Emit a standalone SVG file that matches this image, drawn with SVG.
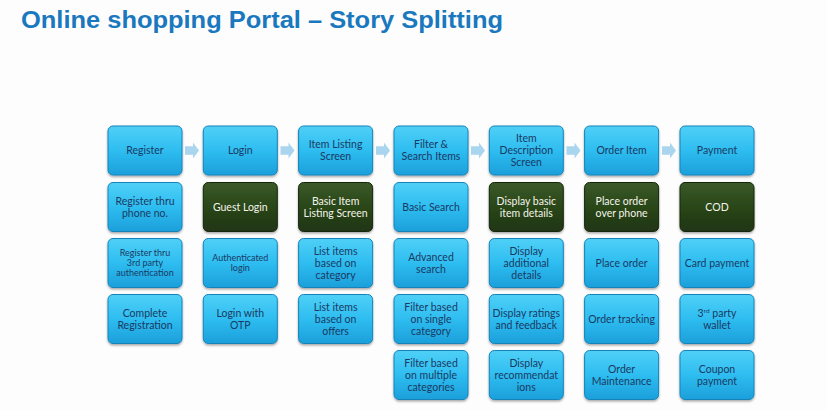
<svg xmlns="http://www.w3.org/2000/svg" width="827" height="410" viewBox="0 0 827 410">
  <defs>
    <linearGradient id="blueFill" x1="0" y1="0" x2="0" y2="1">
      <stop offset="0" stop-color="#4fd0f7"/>
      <stop offset="0.5" stop-color="#2ebdf0"/>
      <stop offset="1" stop-color="#1c9fdb"/>
    </linearGradient>
    <linearGradient id="darkFill" x1="0" y1="0" x2="0" y2="1">
      <stop offset="0" stop-color="#3a5a28"/>
      <stop offset="0.5" stop-color="#2a4619"/>
      <stop offset="1" stop-color="#1f3512"/>
    </linearGradient>
    <filter id="shadow" x="-10%" y="-10%" width="120%" height="130%">
      <feDropShadow dx="0" dy="1.5" stdDeviation="1.2" flood-color="#000" flood-opacity="0.35"/>
    </filter>
    <path id="chev" d="M0,-4.3 H8 V-8 L14,0 L8,8 V4.3 H0 Z"/>
  </defs>
  <style>
    .box { fill: url(#blueFill); stroke: #1984b8; stroke-width: 1; filter: url(#shadow); }
    .dark { fill: url(#darkFill); stroke: #16260d; stroke-width: 1; filter: url(#shadow); }
    .t { font-family: Lato, "Open Sans", "Liberation Sans", sans-serif; font-size: 10.5px; fill: #1a3a64; text-anchor: middle; }
    .s { font-size: 9px; }
    .w { fill: #f4f4ea; }
    .arrow { fill: #a9d5ef; }
    .title { font-family: "Liberation Sans", Arial, sans-serif; font-weight: bold; font-size: 23px; fill: #1a78be; }
  </style>

  <rect width="827" height="410" fill="#fdfdfd"/>

  <text class="title" x="21" y="27.5" textLength="482" lengthAdjust="spacingAndGlyphs">Online shopping Portal – Story Splitting</text>

  <!-- flow arrows along the top row -->
  <g id="connectors">
    <use href="#chev" class="arrow" x="185" y="150.5"/>
    <use href="#chev" class="arrow" x="280.5" y="150.5"/>
    <use href="#chev" class="arrow" x="376" y="150.5"/>
    <use href="#chev" class="arrow" x="471" y="150.5"/>
    <use href="#chev" class="arrow" x="566.5" y="150.5"/>
    <use href="#chev" class="arrow" x="662" y="150.5"/>
  </g>

  <!-- Column 1: Register -->
  <g id="register">
    <rect class="box" x="108" y="126" width="74" height="49" rx="5"/>
    <text class="t" x="145" y="154">Register</text>
  </g>
  <g id="register-phone">
    <rect class="box" x="108" y="182.5" width="74" height="49" rx="5"/>
    <text class="t" x="145" y="204.5">Register thru</text>
    <text class="t" x="145" y="216.5">phone no.</text>
  </g>
  <g id="register-3rd-party">
    <rect class="box" x="108" y="238.5" width="74" height="49" rx="5"/>
    <text class="t s" x="145" y="255.5">Register thru</text>
    <text class="t s" x="145" y="265.5">3rd party</text>
    <text class="t s" x="145" y="275.5">authentication</text>
  </g>
  <g id="complete-registration">
    <rect class="box" x="108" y="294.5" width="74" height="49" rx="5"/>
    <text class="t" x="145" y="316.5">Complete</text>
    <text class="t" x="145" y="328.5">Registration</text>
  </g>

  <!-- Column 2: Login -->
  <g id="login">
    <rect class="box" x="203.3" y="126" width="74" height="49" rx="5"/>
    <text class="t" x="240.3" y="154">Login</text>
  </g>
  <g id="guest-login">
    <rect class="dark" x="203.3" y="182.5" width="74" height="49" rx="5"/>
    <text class="t w" x="240.3" y="210.5">Guest Login</text>
  </g>
  <g id="authenticated-login">
    <rect class="box" x="203.3" y="238.5" width="74" height="49" rx="5"/>
    <text class="t s" x="240.3" y="260.5">Authenticated</text>
    <text class="t s" x="240.3" y="270.5">login</text>
  </g>
  <g id="login-otp">
    <rect class="box" x="203.3" y="294.5" width="74" height="49" rx="5"/>
    <text class="t" x="240.3" y="316.5">Login with</text>
    <text class="t" x="240.3" y="328.5">OTP</text>
  </g>

  <!-- Column 3: Item Listing Screen -->
  <g id="item-listing">
    <rect class="box" x="298.6" y="126" width="74" height="49" rx="5"/>
    <text class="t" x="335.6" y="148">Item Listing</text>
    <text class="t" x="335.6" y="160">Screen</text>
  </g>
  <g id="basic-item-listing">
    <rect class="dark" x="298.6" y="182.5" width="74" height="49" rx="5"/>
    <text class="t w" x="335.6" y="204.5">Basic Item</text>
    <text class="t w" x="335.6" y="216.5">Listing Screen</text>
  </g>
  <g id="list-by-category">
    <rect class="box" x="298.6" y="238.5" width="74" height="49" rx="5"/>
    <text class="t" x="335.6" y="254.5">List items</text>
    <text class="t" x="335.6" y="266.5">based on</text>
    <text class="t" x="335.6" y="278.5">category</text>
  </g>
  <g id="list-by-offers">
    <rect class="box" x="298.6" y="294.5" width="74" height="49" rx="5"/>
    <text class="t" x="335.6" y="310.5">List items</text>
    <text class="t" x="335.6" y="322.5">based on</text>
    <text class="t" x="335.6" y="334.5">offers</text>
  </g>

  <!-- Column 4: Filter & Search -->
  <g id="filter-search">
    <rect class="box" x="394" y="126" width="74" height="49" rx="5"/>
    <text class="t" x="431" y="148">Filter &amp;</text>
    <text class="t" x="431" y="160">Search Items</text>
  </g>
  <g id="basic-search">
    <rect class="box" x="394" y="182.5" width="74" height="49" rx="5"/>
    <text class="t" x="431" y="210.5">Basic Search</text>
  </g>
  <g id="advanced-search">
    <rect class="box" x="394" y="238.5" width="74" height="49" rx="5"/>
    <text class="t" x="431" y="260.5">Advanced</text>
    <text class="t" x="431" y="272.5">search</text>
  </g>
  <g id="filter-single">
    <rect class="box" x="394" y="294.5" width="74" height="49" rx="5"/>
    <text class="t" x="431" y="310.5">Filter based</text>
    <text class="t" x="431" y="322.5">on single</text>
    <text class="t" x="431" y="334.5">category</text>
  </g>
  <g id="filter-multiple">
    <rect class="box" x="394" y="350.5" width="74" height="49" rx="5"/>
    <text class="t" x="431" y="366.5">Filter based</text>
    <text class="t" x="431" y="378.5">on multiple</text>
    <text class="t" x="431" y="390.5">categories</text>
  </g>

  <!-- Column 5: Item Description Screen -->
  <g id="item-description">
    <rect class="box" x="489.3" y="126" width="74" height="49" rx="5"/>
    <text class="t" x="526.3" y="142">Item</text>
    <text class="t" x="526.3" y="154">Description</text>
    <text class="t" x="526.3" y="166">Screen</text>
  </g>
  <g id="basic-details">
    <rect class="dark" x="489.3" y="182.5" width="74" height="49" rx="5"/>
    <text class="t w" x="526.3" y="204.5">Display basic</text>
    <text class="t w" x="526.3" y="216.5">item details</text>
  </g>
  <g id="additional-details">
    <rect class="box" x="489.3" y="238.5" width="74" height="49" rx="5"/>
    <text class="t" x="526.3" y="254.5">Display</text>
    <text class="t" x="526.3" y="266.5">additional</text>
    <text class="t" x="526.3" y="278.5">details</text>
  </g>
  <g id="ratings-feedback">
    <rect class="box" x="489.3" y="294.5" width="74" height="49" rx="5"/>
    <text class="t" x="526.3" y="316.5">Display ratings</text>
    <text class="t" x="526.3" y="328.5">and feedback</text>
  </g>
  <g id="recommendations">
    <rect class="box" x="489.3" y="350.5" width="74" height="49" rx="5"/>
    <text class="t" x="526.3" y="366.5">Display</text>
    <text class="t" x="526.3" y="378.5">recommendat</text>
    <text class="t" x="526.3" y="390.5">ions</text>
  </g>

  <!-- Column 6: Order Item -->
  <g id="order-item">
    <rect class="box" x="584.6" y="126" width="74" height="49" rx="5"/>
    <text class="t" x="621.6" y="154">Order Item</text>
  </g>
  <g id="order-phone">
    <rect class="dark" x="584.6" y="182.5" width="74" height="49" rx="5"/>
    <text class="t w" x="621.6" y="204.5">Place order</text>
    <text class="t w" x="621.6" y="216.5">over phone</text>
  </g>
  <g id="place-order">
    <rect class="box" x="584.6" y="238.5" width="74" height="49" rx="5"/>
    <text class="t" x="621.6" y="266.5">Place order</text>
  </g>
  <g id="order-tracking">
    <rect class="box" x="584.6" y="294.5" width="74" height="49" rx="5"/>
    <text class="t" x="621.6" y="322.5">Order tracking</text>
  </g>
  <g id="order-maintenance">
    <rect class="box" x="584.6" y="350.5" width="74" height="49" rx="5"/>
    <text class="t" x="621.6" y="372.5">Order</text>
    <text class="t" x="621.6" y="384.5">Maintenance</text>
  </g>

  <!-- Column 7: Payment -->
  <g id="payment">
    <rect class="box" x="680" y="126" width="74" height="49" rx="5"/>
    <text class="t" x="717" y="154">Payment</text>
  </g>
  <g id="cod">
    <rect class="dark" x="680" y="182.5" width="74" height="49" rx="5"/>
    <text class="t w" x="717" y="210.5">COD</text>
  </g>
  <g id="card-payment">
    <rect class="box" x="680" y="238.5" width="74" height="49" rx="5"/>
    <text class="t" x="717" y="266.5">Card payment</text>
  </g>
  <g id="wallet">
    <rect class="box" x="680" y="294.5" width="74" height="49" rx="5"/>
    <text class="t" x="717" y="316.5">3<tspan font-size="6.5px" dy="-3.5">rd</tspan><tspan dy="3.5"> party</tspan></text>
    <text class="t" x="717" y="328.5">wallet</text>
  </g>
  <g id="coupon-payment">
    <rect class="box" x="680" y="350.5" width="74" height="49" rx="5"/>
    <text class="t" x="717" y="372.5">Coupon</text>
    <text class="t" x="717" y="384.5">payment</text>
  </g>
</svg>
